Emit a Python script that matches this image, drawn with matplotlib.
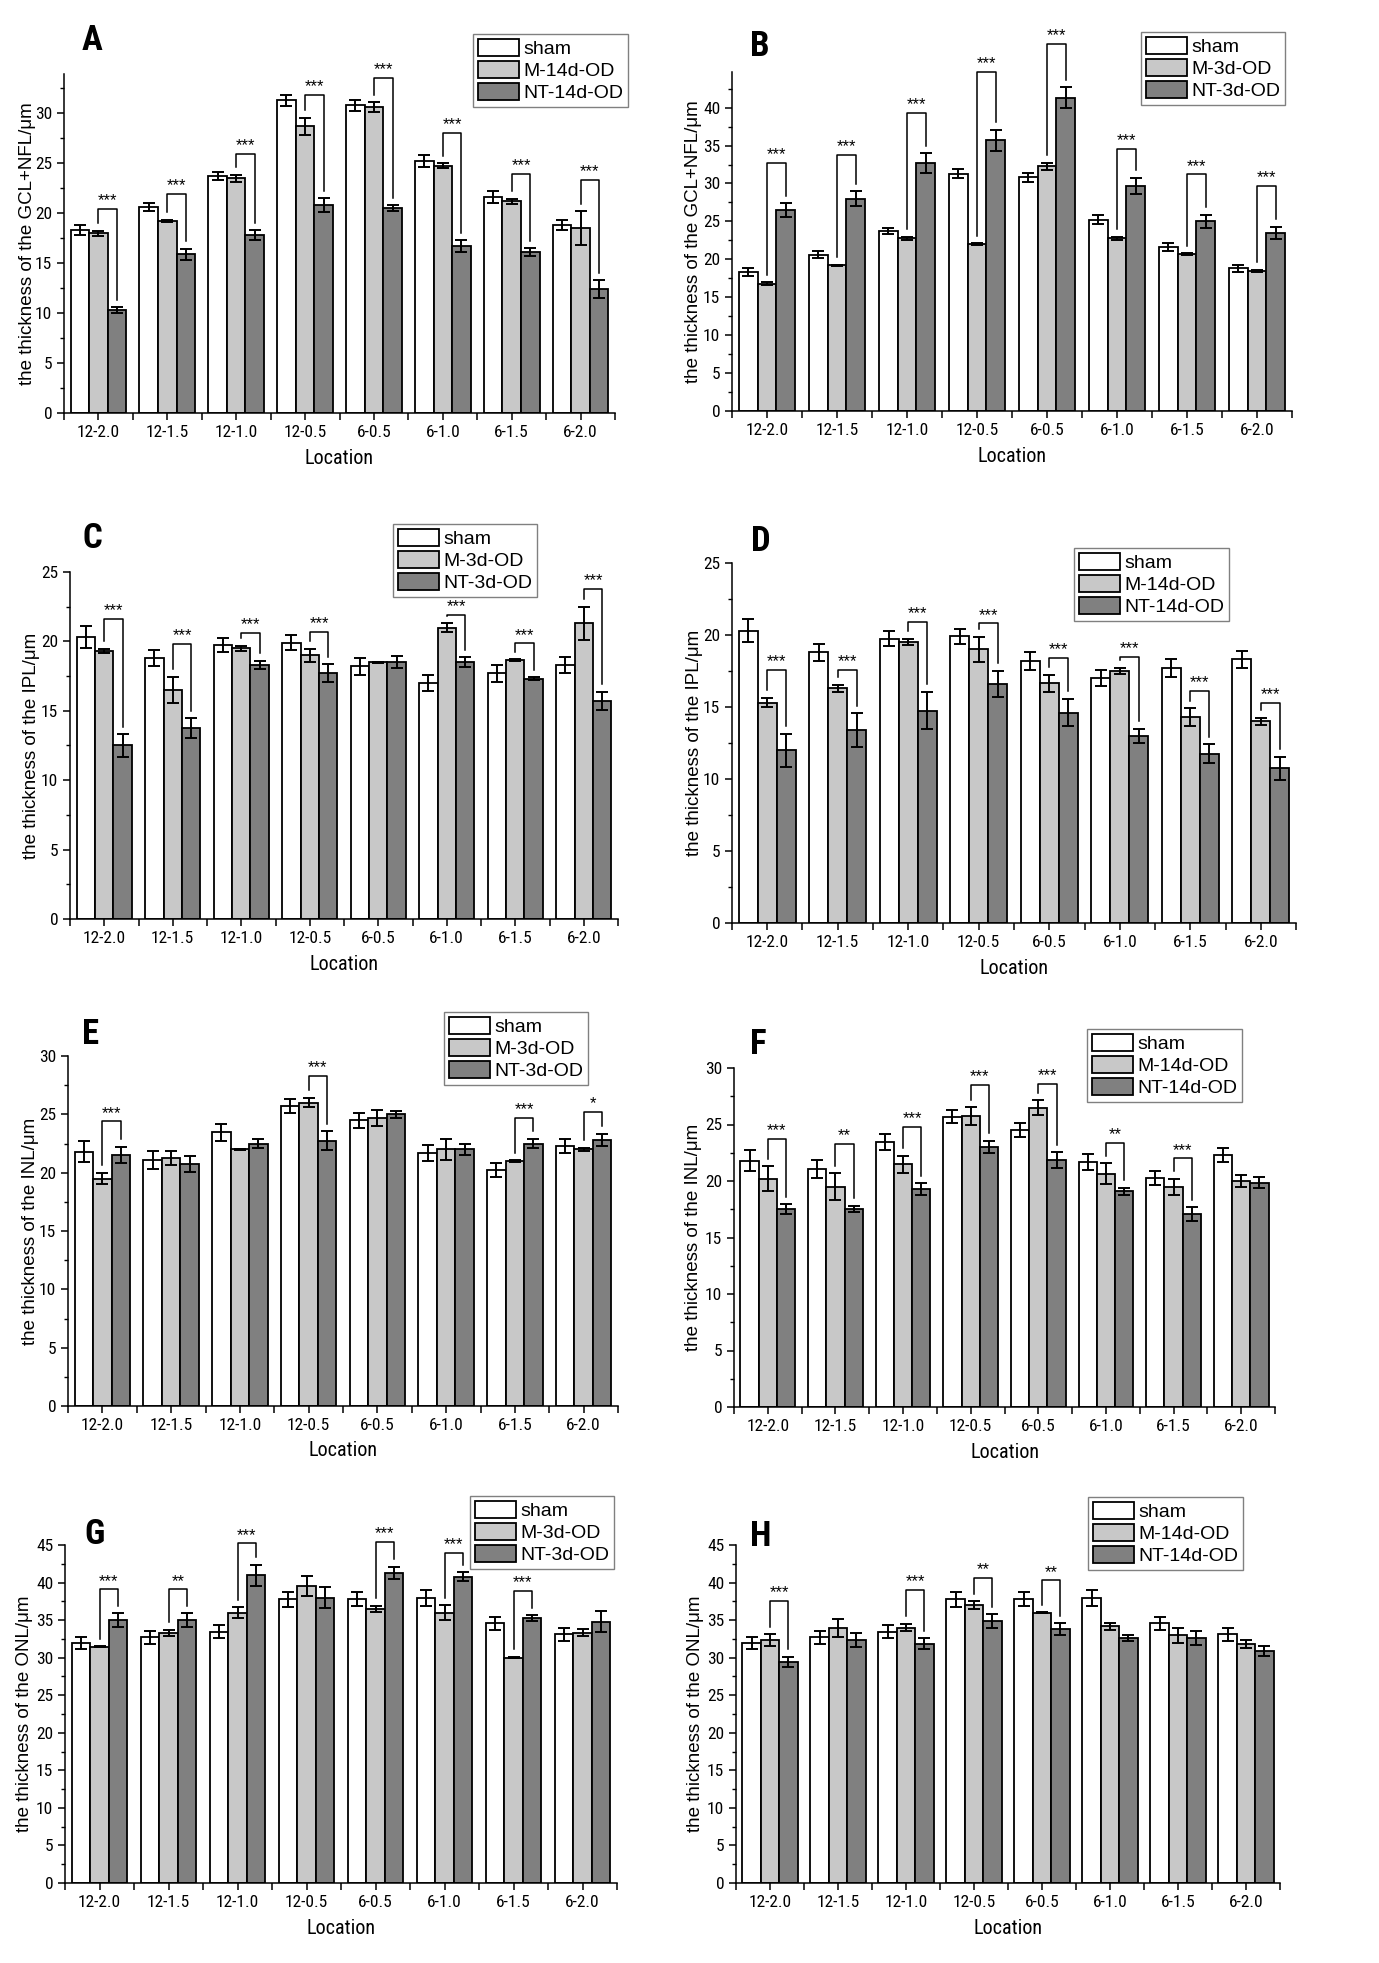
import numpy as np
import matplotlib.pyplot as plt
from matplotlib.patches import Patch
from matplotlib.ticker import MultipleLocator

REG = ['Liberation Sans', 'DejaVu Sans']
COND = ['Roboto Condensed', 'Liberation Sans', 'DejaVu Sans']
plt.rcParams['font.family'] = REG

locations = ['12-2.0', '12-1.5', '12-1.0', '12-0.5', '6-0.5', '6-1.0', '6-1.5', '6-2.0']

# GCL+NFL
gcl_sham = [18.3, 20.6, 23.7, 31.3, 30.8, 25.2, 21.6, 18.8]
gcl_sham_err = [0.5, 0.45, 0.4, 0.55, 0.55, 0.6, 0.55, 0.5]
gcl_m14 = [18.0, 19.25, 23.5, 28.7, 30.6, 24.75, 21.2, 18.5]
gcl_m14_err = [0.25, 0.1, 0.35, 0.85, 0.5, 0.25, 0.25, 1.7]
gcl_nt14 = [10.3, 15.9, 17.8, 20.8, 20.5, 16.7, 16.1, 12.4]
gcl_nt14_err = [0.3, 0.55, 0.5, 0.7, 0.3, 0.6, 0.4, 0.9]
gcl_m3 = [16.75, 19.2, 22.75, 22.0, 32.25, 22.75, 20.7, 18.5]
gcl_m3_err = [0.2, 0.1, 0.2, 0.1, 0.5, 0.25, 0.1, 0.15]
gcl_nt3 = [26.5, 28.0, 32.7, 35.7, 41.3, 29.7, 25.0, 23.5]
gcl_nt3_err = [0.9, 1.0, 1.3, 1.4, 1.4, 1.05, 0.9, 0.8]

# IPL
ipl_sham = [20.3, 18.8, 19.75, 19.9, 18.2, 17.0, 17.7, 18.3]
ipl_sham_err = [0.8, 0.6, 0.5, 0.55, 0.6, 0.55, 0.6, 0.6]
ipl_m3 = [19.3, 16.5, 19.5, 19.0, 18.5, 21.0, 18.65, 21.3]
ipl_m3_err = [0.15, 0.95, 0.2, 0.45, 0.05, 0.3, 0.05, 1.2]
ipl_nt3 = [12.5, 13.75, 18.3, 17.7, 18.5, 18.5, 17.3, 15.7]
ipl_nt3_err = [0.8, 0.7, 0.3, 0.65, 0.45, 0.35, 0.1, 0.65]
ipl_m14 = [15.3, 16.3, 19.5, 19.0, 16.65, 17.5, 14.3, 14.0]
ipl_m14_err = [0.3, 0.25, 0.2, 0.85, 0.6, 0.2, 0.6, 0.25]
ipl_nt14 = [12.0, 13.4, 14.75, 16.6, 14.6, 13.0, 11.75, 10.75]
ipl_nt14_err = [1.15, 1.15, 1.3, 0.9, 0.95, 0.5, 0.65, 0.8]

# INL
inl_sham = [21.8, 21.1, 23.45, 25.7, 24.5, 21.7, 20.25, 22.3]
inl_sham_err = [0.9, 0.8, 0.7, 0.6, 0.65, 0.7, 0.6, 0.6]
inl_m3 = [19.5, 21.3, 22.0, 26.0, 24.7, 22.0, 21.0, 22.0]
inl_m3_err = [0.5, 0.6, 0.05, 0.4, 0.7, 0.9, 0.05, 0.1]
inl_nt3 = [21.5, 20.75, 22.5, 22.75, 25.0, 22.0, 22.5, 22.8]
inl_nt3_err = [0.7, 0.65, 0.35, 0.8, 0.3, 0.45, 0.4, 0.55]
inl_m14 = [20.2, 19.5, 21.5, 25.75, 26.5, 20.65, 19.5, 20.0]
inl_m14_err = [1.1, 1.2, 0.75, 0.8, 0.65, 0.9, 0.7, 0.55]
inl_nt14 = [17.5, 17.55, 19.3, 23.0, 21.85, 19.1, 17.1, 19.85]
inl_nt14_err = [0.45, 0.25, 0.5, 0.55, 0.7, 0.3, 0.6, 0.5]

# ONL
onl_sham = [32.0, 32.7, 33.45, 37.75, 37.8, 37.95, 34.55, 33.1]
onl_sham_err = [0.8, 0.9, 0.85, 1.0, 0.9, 1.05, 0.9, 0.85]
onl_m3 = [31.45, 33.3, 36.0, 39.5, 36.5, 36.0, 30.0, 33.35]
onl_m3_err = [0.05, 0.4, 0.75, 1.35, 0.4, 1.0, 0.1, 0.5]
onl_nt3 = [35.0, 35.0, 41.0, 38.0, 41.3, 40.75, 35.25, 34.8]
onl_nt3_err = [0.9, 0.95, 1.4, 1.4, 0.8, 0.6, 0.4, 1.4]
onl_m14 = [32.35, 34.0, 34.0, 37.0, 36.0, 34.2, 33.0, 31.8]
onl_m14_err = [0.75, 1.2, 0.5, 0.5, 0.05, 0.45, 1.0, 0.5]
onl_nt14 = [29.4, 32.35, 31.85, 34.9, 33.8, 32.65, 32.65, 30.9]
onl_nt14_err = [0.7, 0.9, 0.75, 0.9, 0.75, 0.4, 0.95, 0.7]

# significance: location index, label, bracket level
sig_A = ([0, 1, 2, 3, 4, 5, 6, 7], ['***'] * 8, [20.4, 21.9, 25.9, 31.8, 33.5, 28.0, 23.9, 23.3])
sig_B = ([0, 1, 2, 3, 4, 5, 6, 7], ['***'] * 8, [32.7, 33.8, 39.3, 44.7, 48.4, 34.6, 31.2, 29.7])
sig_C = ([0, 1, 2, 3, 5, 6, 7], ['***'] * 7, [21.6, 19.8, 20.6, 20.7, 21.9, 19.85, 23.8])
sig_D = ([0, 1, 2, 3, 4, 5, 6, 7], ['***'] * 8, [17.6, 17.6, 20.9, 20.8, 18.4, 18.5, 16.1, 15.3])
sig_E = ([0, 3, 6, 7], ['***', '***', '***', '*'], [24.4, 28.3, 24.7, 25.2])
sig_F = ([0, 1, 2, 3, 4, 5, 6], ['***', '**', '***', '***', '***', '**', '***'],
         [23.75, 23.3, 24.8, 28.5, 28.6, 23.4, 22.0])
sig_G = ([0, 1, 2, 4, 5, 6], ['***', '**', '***', '***', '***', '***'], [39.1, 39.1, 45.2, 45.4, 44.0, 38.9])
sig_H = ([0, 2, 3, 4], ['***', '***', '**', '**'], [37.55, 39.0, 40.6, 40.3])

panels = [
    # letter, layer, day, sham, m, nt, ytop, sig, (left, right, bottom, top px), letter xy, legend xy, ylabel x
    ('A', 'GCL+NFL', '14d', (gcl_sham, gcl_sham_err), (gcl_m14, gcl_m14_err), (gcl_nt14, gcl_nt14_err),
     33.9, sig_A, (64, 615, 413, 74), (92, 41), (473, 34), 28),
    ('B', 'GCL+NFL', '3d', (gcl_sham, gcl_sham_err), (gcl_m3, gcl_m3_err), (gcl_nt3, gcl_nt3_err),
     44.7, sig_B, (732, 1292, 411, 72), (760, 47), (1141, 32), 694),
    ('C', 'IPL', '3d', (ipl_sham, ipl_sham_err), (ipl_m3, ipl_m3_err), (ipl_nt3, ipl_nt3_err),
     25, sig_C, (70, 618, 919, 572), (92, 538), (393, 524), 32),
    ('D', 'IPL', '14d', (ipl_sham, ipl_sham_err), (ipl_m14, ipl_m14_err), (ipl_nt14, ipl_nt14_err),
     25, sig_D, (732, 1296, 923, 563), (761, 541), (1074, 548), 695),
    ('E', 'INL', '3d', (inl_sham, inl_sham_err), (inl_m3, inl_m3_err), (inl_nt3, inl_nt3_err),
     30, sig_E, (68, 618, 1406, 1056), (91, 1035), (444, 1012), 31),
    ('F', 'INL', '14d', (inl_sham, inl_sham_err), (inl_m14, inl_m14_err), (inl_nt14, inl_nt14_err),
     30, sig_F, (734, 1275, 1407, 1068), (758, 1045), (1087, 1029), 693),
    ('G', 'ONL', '3d', (onl_sham, onl_sham_err), (onl_m3, onl_m3_err), (onl_nt3, onl_nt3_err),
     45, sig_G, (65, 617, 1883, 1545), (94, 1535), (470, 1496), 25),
    ('H', 'ONL', '14d', (onl_sham, onl_sham_err), (onl_m14, onl_m14_err), (onl_nt14, onl_nt14_err),
     45, sig_H, (736, 1280, 1883, 1545), (761, 1537), (1088, 1497), 695),
]

W, H = 1379, 1963
fig = plt.figure(figsize=(W / 100, H / 100), dpi=100)

colors = ['white', '#c8c8c8', '#808080']
bw = 0.27
x = np.arange(len(locations))

for (letter, layer, day, sham, m, nt, ytop, sig, box, lxy, legxy, ylx) in panels:
    left, right, bottom, top = box
    ax = fig.add_axes([left / W, 1 - bottom / H, (right - left) / W, (bottom - top) / H])
    names = ['sham', f'M-{day}-OD', f'NT-{day}-OD']
    for k, (vals, errs) in enumerate([sham, m, nt]):
        pos = x + (k - 1) * bw
        ax.bar(pos, vals, bw, color=colors[k], edgecolor='black', linewidth=1.3, zorder=2)
        ax.errorbar(pos, vals, yerr=errs, fmt='none', ecolor='black', elinewidth=1.4,
                    capsize=4.5, capthick=1.4, zorder=3)

    gap = 0.022 * ytop
    for i, lab, lev in zip(*sig):
        y1 = m[0][i] + m[1][i] + gap
        y2 = nt[0][i] + nt[1][i] + gap
        ax.plot([i, i, i + bw, i + bw], [y1, lev, lev, y2], color='black', lw=1.1,
                clip_on=False, zorder=4)
        ax.text(i + bw / 2, lev + 0.002 * ytop, lab, ha='center', va='bottom', fontsize=12,
                zorder=7)

    ax.set_xlim(-0.5, 7.5)
    ax.set_ylim(0, ytop)
    ax.spines['top'].set_visible(False)
    ax.spines['right'].set_visible(False)
    ax.spines['left'].set_linewidth(1.1)
    ax.spines['bottom'].set_linewidth(1.1)
    ax.set_xticks(x)
    ax.set_xticklabels(locations, fontsize=12.5, family=COND)
    ax.set_xticks(np.arange(-0.5, 8, 1), minor=True)
    step = 5
    ax.set_yticks(np.arange(0, ytop + 0.01, step))
    ax.yaxis.set_minor_locator(MultipleLocator(step / 2))
    for lbl in ax.get_yticklabels():
        lbl.set_family(COND)
    ax.tick_params(axis='y', labelsize=12.5, direction='out', length=5, width=1.1, pad=3.5)
    ax.tick_params(axis='y', which='minor', direction='out', length=3, width=1.0)
    ax.tick_params(axis='x', which='both', direction='out', length=5, width=1.1, pad=3.5)

    ax.set_ylabel(f'the thickness of the {layer}/μm', fontsize=13.5, va='center')
    ax.yaxis.set_label_coords((ylx - left) / (right - left), 0.5)
    ax.set_xlabel('Location', fontsize=14.5, family=COND, va='center')
    ax.xaxis.set_label_coords(0.5, -45 / (bottom - top))

    fig.text(lxy[0] / W, 1 - lxy[1] / H, letter, fontsize=25, fontweight='bold', family=COND,
             ha='center', va='center')

    handles = [Patch(facecolor=c, edgecolor='black', linewidth=1.3) for c in colors]
    leg = ax.legend(handles, names, loc='upper left',
                    bbox_to_anchor=(legxy[0] / W, 1 - legxy[1] / H), bbox_transform=fig.transFigure,
                    prop={'family': REG, 'size': 14}, frameon=True, fancybox=False,
                    framealpha=1, edgecolor='#808080', borderpad=0.25, labelspacing=0.15,
                    handlelength=2.1, handleheight=0.95, handletextpad=0.25, borderaxespad=0)
    leg.set_zorder(6)
    leg.get_frame().set_linewidth(1.0)

fig.savefig('out.png', dpi=100, facecolor='white')
